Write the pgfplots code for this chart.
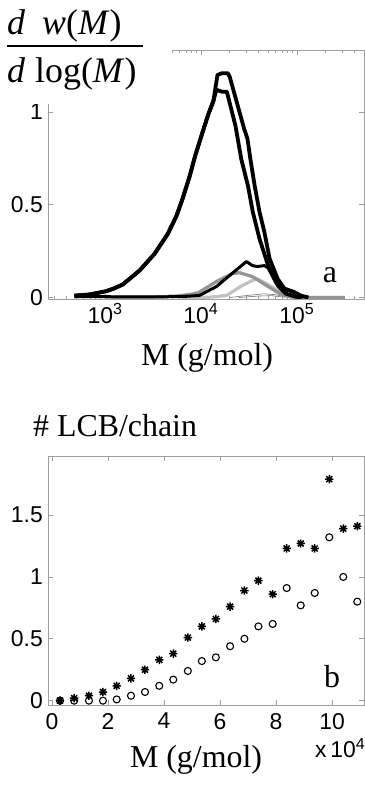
\documentclass[border=0pt]{standalone}
\usepackage{fontspec}
\setmainfont{Liberation Serif}
\setsansfont{Liberation Sans}
\usepackage{pgfplots}
\pgfplotsset{compat=1.18}

\definecolor{axgray}{gray}{0.62}
\definecolor{midgray}{gray}{0.58}
\definecolor{ltgray}{gray}{0.76}
\definecolor{thingray}{gray}{0.45}

\pgfdeclareplotmark{mstar}{%
 \pgfpathmoveto{\pgfqpoint{0pt}{\pgfplotmarksize}}\pgfpathlineto{\pgfqpoint{0pt}{-\pgfplotmarksize}}%
 \pgfpathmoveto{\pgfqpoint{\pgfplotmarksize}{0pt}}\pgfpathlineto{\pgfqpoint{-\pgfplotmarksize}{0pt}}%
 \pgfpathmoveto{\pgfqpoint{.707\pgfplotmarksize}{.707\pgfplotmarksize}}\pgfpathlineto{\pgfqpoint{-.707\pgfplotmarksize}{-.707\pgfplotmarksize}}%
 \pgfpathmoveto{\pgfqpoint{-.707\pgfplotmarksize}{.707\pgfplotmarksize}}\pgfpathlineto{\pgfqpoint{.707\pgfplotmarksize}{-.707\pgfplotmarksize}}%
 \pgfusepathqstroke}

\begin{document}
\begin{tikzpicture}[x=1bp,y=1bp]
\path[use as bounding box] (0,0) rectangle (364,787);
\pgfplotsset{
 every axis/.append style={
  scale only axis, width=316bp, height=249bp,
  axis line style={axgray, line width=0.8bp},
  tick style={axgray, line width=0.8bp},
  tick align=inside,
  major tick length=5bp, minor tick length=3bp,
  ticklabel style={font=\fontsize{23}{23}\selectfont\sffamily},
  /pgf/number format/assume math mode=true,
  yticklabel style={anchor=east, inner sep=0pt, xshift=-5bp},
 }
}

% ---------- panel a ----------
\begin{axis}[at={(48bp,488bp)}, anchor=south west,
  xmode=log, xmin=255, xmax=5e5, ymin=-0.008, ymax=1.335,
  xtick={1000,10000,100000},
  xticklabels={10\textsuperscript{3},10\textsuperscript{4},10\textsuperscript{5}},
  minor xtick={300,400,500,600,700,800,900,2000,3000,4000,5000,6000,7000,8000,9000,20000,30000,40000,50000,60000,70000,80000,90000,200000,300000,400000,500000},
  ytick={0,0.5,1}, yticklabels={0,0.5,1},
  xticklabel style={anchor=north, inner sep=0pt, yshift=-4bp},
  line join=round]
% thin grey lines
\addplot[thingray, line width=0.6bp] coordinates {
 (20000,0) (25000,0.006) (33000,0.013) (45709,0.02) (60000,0.015) (75000,0.005) (90000,0) };
\addplot[thingray, line width=0.6bp] coordinates {
 (25000,0) (40000,0.008) (55000,0.01) (70000,0.003) (85000,0) };
% light grey
\addplot[ltgray, line width=3.2bp] coordinates {
 (6310,0) (12589,0.002) (18450,0.011) (27040,0.065) (37844,0.102) (48084,0.075)
 (65766,0.032) (83560,0.005) (100000,0) (316228,0) };
% medium grey
\addplot[midgray, line width=3.2bp] coordinates {
 (1000,0.002) (3162,0.003) (5623,0.008) (7943,0.018) (9333,0.025) (14488,0.086)
 (21281,0.129) (25177,0.134) (34356,0.113) (48084,0.065) (65766,0.022) (83560,0.005)
 (100000,0) (316228,0) };
% small black curve
\addplot[black, line width=3bp] coordinates {
 (481,0.005) (3162,0.003) (6310,0.005) (9638,0.011) (14488,0.059) (19815,0.118)
 (29785,0.194) (34356,0.172) (38815,0.167) (45814,0.172) (50119,0.16) (60256,0.08)
 (72444,0.045) (85114,0.035) (100000,0.02) (114815,0) };
% thick black A
\addplot[black, line width=3.8bp] coordinates {
 (481,0.010) (690,0.016) (1030,0.034) (1257,0.05) (1531,0.07) (2288,0.145)
 (3278,0.235) (4477,0.34) (5559,0.44) (6412,0.53) (7586,0.65) (8770,0.77)
 (10375,0.89) (11967,0.99) (13490,1.06) (14859,1.20) (16596,1.21) (19055,1.21)
 (19953,1.19) (28184,0.91) (30549,0.855) (32734,0.747) (36308,0.602) (40738,0.462)
 (45709,0.355) (51880,0.21) (63096,0.10) (74131,0.048) (93325,0.03) (109648,0.01)
 (131826,0) };
% thick black B
\addplot[black, line width=3.8bp] coordinates {
 (481,0.010) (690,0.016) (1030,0.034) (1257,0.05) (1531,0.07) (2288,0.145)
 (3278,0.235) (4477,0.34) (5559,0.44) (6412,0.53) (7586,0.65) (8770,0.77)
 (10375,0.89) (11967,0.99) (13490,1.06) (14454,1.12) (16596,1.11) (18621,1.11)
 (22909,0.925) (26303,0.747) (30903,0.602) (34674,0.462) (40738,0.317) (50119,0.172)
 (63096,0.065) (75858,0.022) (95499,0.005) (112202,0) };
\end{axis}

% ---------- panel b ----------
\begin{axis}[at={(48bp,82bp)}, anchor=south west,
  xmin=-1430, xmax=111400, ymin=-0.035, ymax=1.977,
  xtick={0,20000,40000,60000,80000,100000},
  xticklabels={0,2,4,6,8,10},
  scaled x ticks=false,
  ytick={0,0.5,1,1.5}, yticklabels={0,0.5,1,1.5},
  xticklabel style={anchor=north, inner sep=0pt, yshift=-8bp}]
\addplot[only marks, mark=o, mark size=3.5bp, mark options={line width=1.1bp, black}] coordinates {
 (2860,0.00) (7900,0.00) (13200,0.00) (18200,0.00) (23100,0.01) (28200,0.04)
 (33200,0.07) (38300,0.12) (43300,0.17) (48500,0.24) (53500,0.32) (58500,0.35)
 (63600,0.44) (68700,0.50) (73700,0.60) (78800,0.62) (83800,0.91) (88800,0.77)
 (93800,0.87) (99000,1.32) (104000,1.00) (109000,0.80) };
\addplot[only marks, mark=mstar, mark size=4.2bp, mark options={line width=1.5bp, black}] coordinates {
 (2860,0.00) (7900,0.02) (13200,0.04) (18200,0.07) (23100,0.12) (28200,0.18)
 (33200,0.25) (38300,0.33) (43300,0.38) (48500,0.51) (53500,0.60) (58500,0.66)
 (63600,0.76) (68700,0.89) (73700,0.97) (78800,0.86) (83800,1.23) (88800,1.27)
 (93800,1.23) (99000,1.79) (104000,1.39) (109000,1.41) };
\end{axis}

% white cover over the top-left of panel a, then labels
\node[fill=white, inner sep=0pt, minimum width=172bp, minimum height=104bp] at (86,735) {};
\node[anchor=base west, inner sep=0pt] at (7,752) {\fontsize{36}{40}\selectfont\textit{d}\hspace{17bp}\textit{w}(\textit{M})};
\fill[black] (7,740.2) rectangle (143,741.8);
\node[anchor=base west, inner sep=0pt] at (7,704) {\fontsize{36}{40}\selectfont\textit{d}\hspace{10bp}log(\textit{M})};
\node[anchor=base, inner sep=0pt] at (207,421) {\fontsize{32}{38}\selectfont M (g/mol)};
\node[anchor=base, inner sep=0pt] at (330,504) {\fontsize{32}{38}\selectfont a};
\node[anchor=base west, inner sep=0pt] at (33,350) {\fontsize{32}{38}\selectfont\# LCB/chain};
\node[anchor=base, inner sep=0pt] at (196,19) {\fontsize{32}{38}\selectfont M (g/mol)};
\node[anchor=base, inner sep=0pt] at (332,99) {\fontsize{32}{38}\selectfont b};
\node[anchor=base west, inner sep=0pt] at (315,29) {\fontsize{23}{23}\selectfont\sffamily x\,10\textsuperscript{4}};
\end{tikzpicture}
\end{document}
